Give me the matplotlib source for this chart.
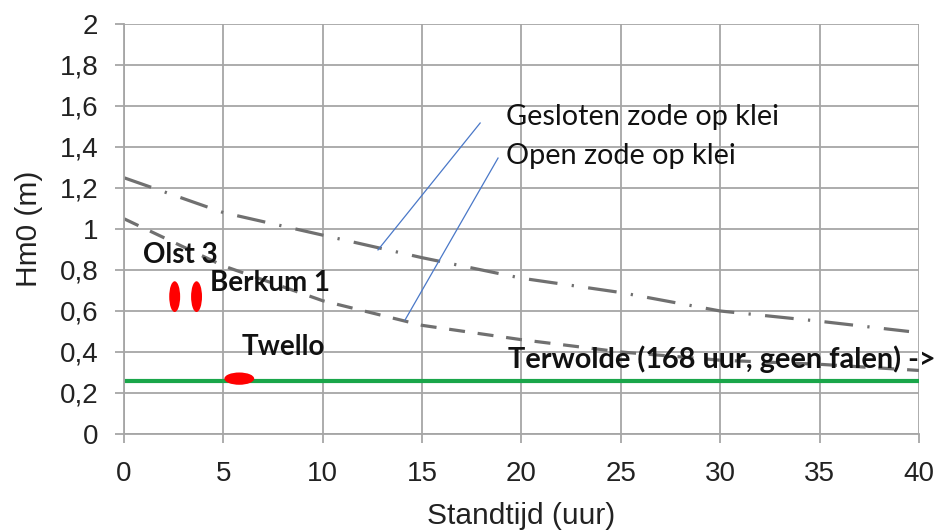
import matplotlib
matplotlib.use("Agg")
import matplotlib.pyplot as plt
from matplotlib.patches import Ellipse

# Standtijd (uur) vs Hm0 (m)
hours = [0, 5, 10, 15, 20, 25, 30, 35, 39.5]
gesloten_hm0 = [1.25, 1.08, 0.97, 0.86, 0.76, 0.69, 0.60, 0.55, 0.50]

hours_open = [0, 5, 10, 15, 20, 25, 30, 35, 40]
open_hm0 = [1.05, 0.82, 0.65, 0.53, 0.46, 0.40, 0.36, 0.34, 0.31]

# Test locations (standtijd, Hm0)
sites = ["Olst 3", "Berkum 1", "Twello"]
site_hours = [2.55, 3.65, 5.8]
site_hm0 = [0.67, 0.67, 0.27]

terwolde_hm0 = 0.26
x_ticks = [0, 5, 10, 15, 20, 25, 30, 35, 40]
y_ticks = [0, 0.2, 0.4, 0.6, 0.8, 1.0, 1.2, 1.4, 1.6, 1.8, 2.0]
y_ticklabels = ["0", "0,2", "0,4", "0,6", "0,8", "1", "1,2", "1,4", "1,6", "1,8", "2"]

fig = plt.figure(figsize=(9.43, 5.31), dpi=100)
ax = fig.add_axes([0.1315, 0.1827, 0.843, 0.7721])

grid_c = "#a6a6a6"
ax.set_xlim(0, 40)
ax.set_ylim(0, 2)
ax.set_xticks(x_ticks)
ax.set_yticks(y_ticks)
ax.set_yticklabels(y_ticklabels)
ax.grid(True, color=grid_c, lw=1.3)
ax.set_axisbelow(True)
for s in ["top", "right"]:
    ax.spines[s].set_visible(False)
for s in ["left", "bottom"]:
    ax.spines[s].set_color(grid_c)
    ax.spines[s].set_linewidth(1.3)
ax.tick_params(axis="both", colors=grid_c, length=6.5, width=1.3, labelsize=20,
               labelcolor="#222222")
ax.tick_params(axis="x", pad=13)
ax.tick_params(axis="y", pad=12)
for lab in ax.get_xticklabels() + ax.get_yticklabels():
    lab.set_fontfamily("Liberation Sans")

ax.set_xlabel("Standtijd (uur)", fontsize=21.5, family="Liberation Sans", color="#222222", labelpad=11)
ax.set_ylabel("Hm0 (m)", fontsize=21.5, family="Liberation Sans", color="#222222", labelpad=12)

# Criterion curves
ax.plot(hours, gesloten_hm0, color="#707070", lw=2.3, dashes=(9, 4.5, 0.7, 4.5))
ax.plot(hours_open, open_hm0, color="#707070", lw=2.3, dashes=(5, 4))

# Terwolde reference line
ax.plot([0, 40], [terwolde_hm0, terwolde_hm0], color="#1aa64a", lw=3)

# Site markers
ax.add_patch(Ellipse((site_hours[0], site_hm0[0]), 0.55, 0.15, color="#ff0000", lw=0))
ax.add_patch(Ellipse((site_hours[1], site_hm0[1]), 0.55, 0.15, color="#ff0000", lw=0))
ax.add_patch(Ellipse((site_hours[2], site_hm0[2]), 1.5, 0.06, color="#ff0000", lw=0, zorder=3))

lbl = dict(family="Lato", fontsize=20, fontweight="bold", color="#111111", va="baseline",
           clip_on=False)
ax.text(0.96, 0.834, sites[0], **lbl)
ax.text(4.33, 0.699, sites[1], **lbl)
ax.text(5.92, 0.385, sites[2], **lbl)
ax.text(19.33, 0.322, "Terwolde (168 uur, geen falen) ->", fontsize=20.8,
        **{k: v for k, v in lbl.items() if k != "fontsize"})

# Curve annotations with leader lines
ann = dict(family="Lato", fontsize=20.8, color="#111111", va="baseline")
ax.text(19.22, 1.507, "Gesloten zode op klei", **ann)
ax.text(19.22, 1.317, "Open zode op klei", **ann)
ax.plot([12.78, 17.92], [0.898, 1.517], color="#4a78c8", lw=0.9)
ax.plot([14.14, 18.82], [0.556, 1.346], color="#4a78c8", lw=0.9)

fig.savefig("out.png", dpi=100)
